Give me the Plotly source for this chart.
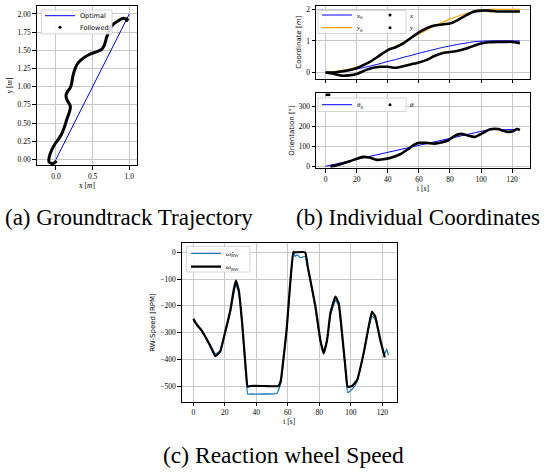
import plotly.graph_objects as go

W, H = 550, 473

# ---------------- (a) Groundtrack trajectory ----------------
opt_x = [0.0, 1.0]
opt_y = [0.0, 2.0]
fol_x = [0.009, -0.045, -0.095, -0.091, -0.059, -0.014, 0.032, 0.077, 0.109, 0.145,
         0.177, 0.195, 0.191, 0.155, 0.136, 0.155, 0.191, 0.214, 0.227, 0.250,
         0.291, 0.350, 0.441, 0.555, 0.623, 0.655, 0.691, 0.727, 0.782, 0.850,
         0.918, 0.973, 0.964, 0.982]
fol_y = [-0.023, -0.060, -0.037, 0.037, 0.128, 0.211, 0.275, 0.349, 0.427, 0.541,
         0.633, 0.702, 0.748, 0.807, 0.872, 0.931, 0.977, 1.046, 1.128, 1.220,
         1.312, 1.376, 1.436, 1.482, 1.514, 1.560, 1.679, 1.780, 1.858, 1.908,
         1.940, 1.927, 1.908, 1.936]

# ---------------- (b) Individual coordinates ----------------
t_opt = [0, 5, 10, 15, 20, 25, 30, 35, 40, 45, 50, 55, 60, 65, 70, 75, 80, 85, 90,
         95, 100, 105, 110, 115, 120, 125]
x0_opt = [0.0, 0.01, 0.03, 0.07, 0.11, 0.16, 0.22, 0.28, 0.35, 0.41, 0.48, 0.54,
          0.61, 0.67, 0.73, 0.79, 0.84, 0.89, 0.93, 0.97, 0.99, 1.0, 1.0, 1.0, 1.0, 1.0]
y0_opt = [0.0, 0.02, 0.06, 0.11, 0.17, 0.27, 0.38, 0.53, 0.69, 0.83, 0.96, 1.09,
          1.22, 1.35, 1.47, 1.58, 1.69, 1.78, 1.86, 1.93, 1.98, 2.0, 2.0, 2.0, 2.0, 2.0]
t_act = [0, 5, 10, 15, 20, 25, 30, 35, 40, 45, 50, 55, 60, 65, 70, 75, 80, 85, 90,
         95, 100, 105, 110, 115, 120, 125]
x_act = [0.0, -0.04, -0.10, -0.09, -0.05, 0.06, 0.14, 0.18, 0.18, 0.15, 0.20, 0.26,
         0.32, 0.40, 0.52, 0.61, 0.65, 0.69, 0.75, 0.84, 0.92, 0.96, 0.97, 0.97, 0.97, 0.93]
y_act = [0.0, 0.0, 0.03, 0.07, 0.14, 0.25, 0.38, 0.55, 0.71, 0.80, 0.92, 1.10, 1.27,
         1.40, 1.49, 1.52, 1.55, 1.66, 1.80, 1.92, 1.96, 1.96, 1.93, 1.93, 1.93, 1.93]
t_th0 = [0, 105, 125]
th0_opt = [0, 183, 183]
t_th = [3, 5, 10, 15, 20, 24, 28, 33, 37, 42, 48, 53, 57, 60, 65, 70, 75, 79, 83,
        87, 91, 96, 101, 106, 111, 114, 117, 121, 123, 125]
th_act = [0, 2, 12, 24, 38, 47, 44, 32, 35, 43, 60, 85, 108, 117, 117, 113, 120, 130,
          152, 162, 155, 147, 166, 185, 186, 178, 172, 176, 186, 181]
t_th_wrap = [0, 3]
th_wrap = [357, 357]

# ---------------- (c) Reaction wheel speed ----------------
t_w = [0, 2, 5, 8, 11, 14, 17, 20, 23.5, 25.6, 27, 28.8, 31, 33, 34.5, 36, 45, 54,
       55.5, 57, 59.3, 61.4, 63.5, 64.5, 71, 72.5, 74.3, 77.5, 80.6, 82.7, 84.9, 87,
       90.2, 92.3, 94.4, 96.5, 98, 100.8, 103.9, 108.1, 111.3, 113.4, 115.5, 118.7, 121.5]
w_rw = [-249, -269, -290, -320, -353, -388, -372, -303, -216, -141, -106, -141, -266,
        -415, -503, -500, -500, -500, -480, -409, -284, -122, 0, 0, 0, -50, -104, -203,
        -328, -378, -328, -228, -166, -191, -303, -428, -503, -500, -478, -378, -278,
        -222, -241, -328, -393]
t_wh = [0, 2, 5, 8, 11, 14, 17, 20, 23.5, 25.6, 27, 28.8, 31, 33, 34.5, 36, 45, 53,
        55.5, 57, 59.3, 61.4, 63.5, 64.5, 66, 68, 71, 72.5, 74.3, 77.5, 80.6, 82.7,
        84.9, 87, 90.2, 92.3, 94.4, 96.5, 98, 100.8, 103.9, 108.1, 111.3, 113.4,
        115.5, 118.7, 121.5, 122.8, 123.8]
wh_rw = [-252, -272, -292, -318, -350, -380, -368, -305, -225, -155, -122, -150, -270,
         -430, -530, -530, -530, -528, -490, -415, -290, -130, 5, -15, -10, -20, -15,
         -55, -110, -210, -330, -368, -330, -235, -180, -200, -310, -440, -525, -512,
         -485, -380, -285, -240, -250, -330, -380, -362, -385]


def px_x(a, b):
    return [a / W, b / W]


def px_y(top, bottom):
    return [1 - bottom / H, 1 - top / H]


fig = go.Figure()

# (a)
fig.add_trace(go.Scatter(x=opt_x, y=opt_y, mode="lines", name="Optimal",
                         line=dict(color="blue", width=1), legend="legend",
                         xaxis="x", yaxis="y"))
fig.add_trace(go.Scatter(x=fol_x, y=fol_y, mode="lines", showlegend=False,
                         line=dict(color="black", width=3, shape="spline", smoothing=0.6),
                         xaxis="x", yaxis="y"))
fig.add_trace(go.Scatter(x=[None], y=[None], mode="markers", name="Followed",
                         marker=dict(color="black", size=3), legend="legend2",
                         xaxis="x", yaxis="y"))

# (b) top
fig.add_trace(go.Scatter(x=t_opt, y=x0_opt, mode="lines", name="<i>x</i><sub>0</sub>",
                         line=dict(color="blue", width=1, shape="spline", smoothing=0.6),
                         legend="legend3", xaxis="x2", yaxis="y2"))
fig.add_trace(go.Scatter(x=t_opt, y=y0_opt, mode="lines", name="<i>y</i><sub>0</sub>",
                         line=dict(color="orange", width=1.2, shape="spline", smoothing=0.6),
                         legend="legend4", xaxis="x2", yaxis="y2"))
fig.add_trace(go.Scatter(x=t_act, y=x_act, mode="lines", showlegend=False,
                         line=dict(color="black", width=2.6, shape="spline", smoothing=0.6),
                         xaxis="x2", yaxis="y2"))
fig.add_trace(go.Scatter(x=t_act, y=y_act, mode="lines", showlegend=False,
                         line=dict(color="black", width=2.6, shape="spline", smoothing=0.6),
                         xaxis="x2", yaxis="y2"))
fig.add_trace(go.Scatter(x=[None], y=[None], mode="markers", name="<i>x</i>",
                         marker=dict(color="black", size=3), legend="legend3",
                         xaxis="x2", yaxis="y2"))
fig.add_trace(go.Scatter(x=[None], y=[None], mode="markers", name="<i>y</i>",
                         marker=dict(color="black", size=3), legend="legend4",
                         xaxis="x2", yaxis="y2"))

# (b) bottom
fig.add_trace(go.Scatter(x=t_th0, y=th0_opt, mode="lines", name="<i>θ</i><sub>0</sub>",
                         line=dict(color="blue", width=1), legend="legend5",
                         xaxis="x3", yaxis="y3"))
fig.add_trace(go.Scatter(x=t_th, y=th_act, mode="lines", showlegend=False,
                         line=dict(color="black", width=2.6, shape="spline", smoothing=0.6),
                         xaxis="x3", yaxis="y3"))
fig.add_trace(go.Scatter(x=t_th_wrap, y=th_wrap, mode="lines", showlegend=False,
                         line=dict(color="black", width=2.6), xaxis="x3", yaxis="y3",
                         cliponaxis=False))
fig.add_trace(go.Scatter(x=[None], y=[None], mode="markers", name="<i>θ</i>",
                         marker=dict(color="black", size=3), legend="legend5",
                         xaxis="x3", yaxis="y3"))

# (c)
fig.add_trace(go.Scatter(x=t_wh, y=wh_rw, mode="lines", name="<i>ω̂</i><sub>RW</sub>",
                         line=dict(color="#1f77b4", width=1.3, shape="spline", smoothing=0.35),
                         legend="legend6", xaxis="x4", yaxis="y4"))
fig.add_trace(go.Scatter(x=t_w, y=w_rw, mode="lines", name="<i>ω</i><sub>RW</sub>",
                         line=dict(color="black", width=2.2, shape="spline", smoothing=0.35),
                         legend="legend7", xaxis="x4", yaxis="y4"))

tickfont = dict(family="Liberation Serif", size=7.5, color="black")
titlefont_serif = dict(family="Liberation Serif", size=7.5, color="black")
titlefont_sans = dict(family="DejaVu Sans", size=7, color="black")


def ax(**kw):
    base = dict(showline=True, linecolor="black", linewidth=1, mirror=True,
                ticks="outside", ticklen=3.5, tickwidth=0.8, tickcolor="black",
                showgrid=True, gridcolor="#c8c8c8", gridwidth=1, zeroline=False,
                tickfont=tickfont, automargin=False)
    base.update(kw)
    return base


def leg(x, y, orient="v", fam="DejaVu Sans", size=6.5, ew=None):
    d = dict(x=x / W, y=1 - y / H, xanchor="left", yanchor="middle",
             bgcolor="rgba(0,0,0,0)", borderwidth=0, orientation=orient,
             font=dict(family=fam, size=size, color="black"), itemwidth=30,
             tracegroupgap=0)
    if ew is not None:
        d.update(entrywidth=ew, entrywidthmode="pixels")
    return d


box = dict(type="rect", xref="paper", yref="paper", layer="above",
           fillcolor="rgba(255,255,255,0.85)", line=dict(color="#cccccc", width=0.8))


def boxpx(x0, y0, x1, y1):
    d = dict(box)
    d.update(x0=x0 / W, x1=x1 / W, y0=1 - y1 / H, y1=1 - y0 / H)
    return d


fig.update_layout(
    width=W, height=H, margin=dict(l=0, r=0, t=0, b=0),
    paper_bgcolor="white", plot_bgcolor="white", template="none",
    xaxis=ax(domain=px_x(36.7, 137.3), range=[-0.263, 1.109], tickvals=[0, 0.5, 1.0],
             tickformat=".1f", anchor="y",
             title=dict(text="x [<i>m</i>]", font=titlefont_serif, standoff=2)),
    yaxis=ax(domain=px_y(6, 165), range=[-0.078, 2.11], dtick=0.25, tickformat=".2f",
             anchor="x", title=dict(text="y [<i>m</i>]", font=titlefont_serif, standoff=3)),
    xaxis2=ax(domain=px_x(316, 530), range=[-6.2, 131.5], dtick=20, anchor="y2",
              showticklabels=False),
    yaxis2=ax(domain=px_y(6, 78.5), range=[-0.19, 2.105], dtick=1, anchor="x2",
              title=dict(text="Coordinate [<i>m</i>]", font=titlefont_sans, standoff=3)),
    xaxis3=ax(domain=px_x(316, 530), range=[-6.2, 131.5], dtick=20, anchor="y3",
              title=dict(text="t [<i>s</i>]", font=titlefont_serif, standoff=2)),
    yaxis3=ax(domain=px_y(93, 168), range=[-8.5, 366], dtick=100, anchor="x3",
              title=dict(text="Orientation [°]", font=titlefont_sans, standoff=3)),
    xaxis4=ax(domain=px_x(181.7, 396.7), range=[-7.4, 129.1], dtick=20, anchor="y4",
              title=dict(text="t [<i>s</i>]", font=titlefont_serif, standoff=2)),
    yaxis4=ax(domain=px_y(243.3, 401.7), range=[-558.7, 33.6], dtick=100, anchor="x4",
              title=dict(text="RW-Speed [RPM]", font=titlefont_sans, standoff=3)),
    legend=leg(40, 15.7),
    legend2=leg(40, 27.3),
    legend3=leg(317, 15, "h", "Liberation Serif", 7, 8),
    legend4=leg(317, 27.7, "h", "Liberation Serif", 7, 8),
    legend5=leg(317, 104.7, "h", "Liberation Serif", 7, 8),
    legend6=leg(186, 253.3, "v", "Liberation Serif", 7),
    legend7=leg(186, 266.7, "v", "Liberation Serif", 7),
    shapes=[boxpx(41.5, 10, 112, 34), boxpx(318, 10.5, 406, 33.5),
            boxpx(318, 98, 406, 111.5), boxpx(186.5, 246.5, 250, 272)],
    annotations=[
        dict(text="(a) Groundtrack Trajectory", x=129 / W, y=1 - 217 / H, xref="paper",
             yref="paper", showarrow=False, xanchor="center", yanchor="middle",
             font=dict(family="Liberation Serif", size=23, color="black")),
        dict(text="(b) Individual Coordinates", x=418 / W, y=1 - 217 / H, xref="paper",
             yref="paper", showarrow=False, xanchor="center", yanchor="middle",
             font=dict(family="Liberation Serif", size=23, color="black")),
        dict(text="(c) Reaction wheel Speed", x=283 / W, y=1 - 455 / H, xref="paper",
             yref="paper", showarrow=False, xanchor="center", yanchor="middle",
             font=dict(family="Liberation Serif", size=23.5, color="black")),
    ],
)

fig.write_html("out.html",
               config={"displayModeBar": False},
               post_script="document.body.style.margin='0px';"
                           "document.body.style.padding='0px';"
                           "document.body.style.overflow='hidden';")
